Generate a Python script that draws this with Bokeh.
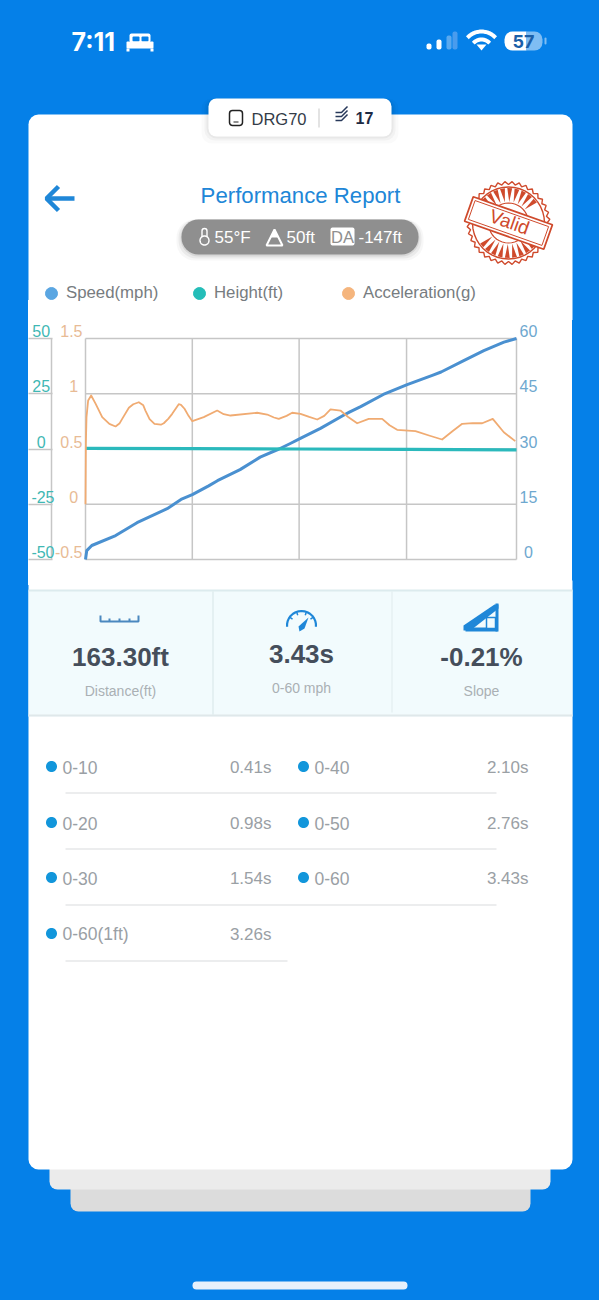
import math
from bokeh.embed import file_html
from bokeh.layouts import column
from bokeh.models import (BoxAnnotation, FixedTicker, Label, Legend, LegendItem, LinearAxis,
                          PolyAnnotation, Range1d)
from bokeh.plotting import figure
from bokeh.resources import INLINE

# ---------- data ----------
speed_t = [0, .01, .05, .24, .41, .65, .76, .85, .98, 1.05, 1.23, 1.39, 1.54, 1.63, 1.71, 1.87, 2.05, 2.10,
           2.19, 2.37, 2.56, 2.76, 2.83, 3.01, 3.17, 3.33, 3.43]
speed_mph = [0, 2.4, 3.8, 6.5, 10, 13.8, 16.3, 17.6, 20, 21.4, 24.4, 27.8, 30, 31.5, 32.9, 35.6, 39.1, 40,
             41.5, 44.8, 47.5, 50, 50.9, 54, 56.7, 59, 60]
height_t = [0, .85, 1.71, 2.56, 3.43]
height_ft = [.3, .2, .0, -.2, -.4]
accel_t = [0, .003, .008, .021, .045, .08, .133, .19, .239, .27, .292, .345, .38, .424, .46, .477, .51, .549, .6, .623,
           .66, .69, .742, .76, .788, .82, .85, .941, 1.048, 1.1, 1.154, 1.366, 1.446, 1.5, 1.538, 1.6, 1.645, 1.711,
           1.78, 1.844, 1.9, 1.95, 2.029, 2.09, 2.162, 2.254, 2.361, 2.42, 2.48, 2.626, 2.74, 2.838, 2.92, 2.998,
           3.08, 3.157, 3.241, 3.329, 3.42]
accel_g = [0, .547, .788, .939, .984, .91, .788, .727, .704, .73, .773, .873, .905, .923, .895, .848, .77, .728, .72,
           .733, .775, .818, .905, .9, .864, .8, .752, .788, .848, .815, .803, .828, .812, .785, .773, .8, .828, .818,
           .79, .767, .8, .858, .848, .79, .733, .773, .773, .715, .674, .661, .62, .586, .66, .728,
           .735, .733, .773, .652, .571]
x_ticks = [0, .85, 1.70, 2.555, 3.43]
speed_ticks = [0, 15, 30, 45, 60]
height_ticks = [-50, -25, 0, 25, 50]
accel_ticks = [-.5, 0, .5, 1, 1.5]
accel_tick_labels = ["-0.5", "0\u00a0", "0.5", "1\u00a0", "1.5"]
height_tick_labels = ["-50", "-25", "0\u00a0\u00a0", "25\u00a0", "50\u00a0"]
speed_tick_labels = ["\u00a00", "15", "30", "45", "60"]
split_names = ["0-10", "0-20", "0-30", "0-60(1ft)", "0-40", "0-50", "0-60"]
split_values = ["0.41s", "0.98s", "1.54s", "3.26s", "2.10s", "2.76s", "3.43s"]

BLUE = "#0580e8"
GRID = "#c6c6c6"
fig = None
yoff = 0


def panel(y0, y1):
    f = figure(width=599, height=y1 - y0, output_backend="svg", toolbar_location=None,
               x_range=Range1d(0, 599), y_range=Range1d(y1 - y0, 0), x_axis_location=None, y_axis_location=None,
               min_border=0, border_fill_color=None, background_fill_color=None, outline_line_color=None,
               frame_align=False)
    f.xgrid.visible = False
    f.ygrid.visible = False
    return f


def box(x0, y0, x1, y1, color, radius=0, alpha=1.0, line=None, lw=1):
    fig.add_layout(BoxAnnotation(left=x0, right=x1, top=y0 - yoff, bottom=y1 - yoff,
                                 left_units="canvas", right_units="canvas", top_units="canvas", bottom_units="canvas",
                                 fill_color=color, fill_alpha=alpha, line_color=line, line_alpha=1, line_width=lw,
                                 border_radius=radius, editable=False))


def poly(pts, fill=None, line=None, lw=1, alpha=1.0):
    fig.add_layout(PolyAnnotation(xs=[a for a, _ in pts], ys=[b - yoff for _, b in pts],
                                  xs_units="canvas", ys_units="canvas", fill_color=fill, fill_alpha=alpha,
                                  line_color=line, line_alpha=1, line_width=lw))


def path(pts, color, lw=2):
    poly(list(pts) + list(pts[::-1]), None, color, lw)


def disc(cx, cy, r, fill=None, line=None, lw=1, n=40):
    poly([(cx + r * math.cos(2 * math.pi * i / n), cy + r * math.sin(2 * math.pi * i / n)) for i in range(n)],
         fill, line, lw)


def arc(cx, cy, r, a0, a1, color, lw=2, n=16):
    path([(cx + r * math.cos(math.radians(a0 + (a1 - a0) * i / n)),
           cy + r * math.sin(math.radians(a0 + (a1 - a0) * i / n))) for i in range(n + 1)], color, lw)


def text(x, y, s, size, color, align="center", bold=False, font="Liberation Sans", angle=0):
    fig.add_layout(Label(x=x, y=y - yoff, x_units="canvas", y_units="canvas", text=s,
                         text_font=font, text_font_size=f"{size}px", text_color=color, text_align=align,
                         text_baseline="middle", text_font_style="bold" if bold else "normal",
                         angle=angle, angle_units="deg"))


# ---------- top panel: page furniture down to the legend ----------
fig, yoff = panel(0, 320), 0
box(28, 114, 572, 340, "#ffffff", 10)

text(71, 41, "7:11", 25, "#ffffff", "left", True, "Inter")
box(129, 33, 150, 42, "#ffffff", 2)
box(132, 36, 139, 41, BLUE, 1)
box(141, 36, 148, 41, BLUE, 1)
box(126, 41, 153, 48, "#ffffff", 1)
box(126, 48, 129, 51, "#ffffff")
box(150, 48, 153, 51, "#ffffff")
box(426, 43, 431, 49, "#ffffff", 2)
box(436, 39, 441, 49, "#ffffff", 2)
box(446, 35, 451, 49, "#5aa9ef", 2)
box(452, 31, 457, 49, "#4a9ced", 2)
arc(481, 50, 19, 222, 318, "#ffffff", 4)
arc(481, 50, 11, 222, 318, "#ffffff", 4)
poly([(476, 44), (486, 44), (481, 50)], "#ffffff")
box(504, 31, 526, 50, "#ffffff", (8, 0, 0, 8))
box(526, 31, 542, 50, "#7fbdf3", (0, 8, 8, 0))
box(544, 37, 546, 44, "#7fbdf3", 1)
text(523, 41, "57", 18, "#1b5fa8", "center", True, "Inter")

for d, a in [(7, .02), (4, .03), (2, .04)]:
    box(208 - d, 98, 391 + d, 136 + d, "#000000", 10, a)
box(208, 98, 391, 136, "#ffffff", 8)
box(229, 110, 242, 125, None, 3, line="#222222", lw=1.5)
box(233, 121, 238, 122, "#222222")
text(251, 118, "DRG70", 16.5, "#333b47", "left")
box(318, 108, 319, 127, "#c8c8c8")
for dy in (-4, 0, 4):
    path([(335, 116 + dy), (341, 116 + dy), (347, 110 + dy)], "#27385a", 1.5)
text(355, 117, "17", 16, "#1d2a44", "left", True)

text(300, 195, "Performance Report", 22.2, "#2086d7")
path([(74, 198), (46, 198)], "#1f87d8", 4.5)
path([(58, 186), (46, 198), (58, 210)], "#1f87d8", 4.5)

for d, a in [(5, .03), (3, .05), (1, .08)]:
    box(181 - d, 219, 418 + d, 254 + d + 1, "#000000", 18, a)
box(181, 219, 418, 254, "#8f8f8f", 17)
box(201.5, 228, 206.5, 240, None, 3, line="#ffffff", lw=1.4)
disc(204, 240, 4.5, "#8f8f8f", "#ffffff", 1.4)
text(214, 237, "55°F", 17, "#ffffff", "left")
poly([(274, 229), (282, 245), (266, 245)], None, "#ffffff", 2)
poly([(274, 229), (278, 237), (270, 237)], "#ffffff")
text(286, 237, "50ft", 17, "#ffffff", "left")
box(330, 227, 354, 245, "#ffffff", 2)
text(342, 236.5, "DA", 16.5, "#8f8f8f")
text(358, 237, "-147ft", 17, "#ffffff", "left")

RED = "#cf4a2c"
cx, cy = 508, 222.5
gear = []
for i in range(72):
    r = 41.5 if i % 2 else 38.5
    gear.append((cx + r * math.cos(i * math.pi / 36), cy + r * math.sin(i * math.pi / 36)))
poly(gear, None, RED, 1.4)
disc(cx, cy, 36, None, RED, 1.4)
disc(cx, cy, 20, None, RED, 1.2)
for i in range(30):
    if 0 <= (i * 12 + 20) % 180 <= 40 or (i * 12 + 20) % 180 >= 150:
        continue
    a = math.radians(i * 12 + 20)
    poly([(cx + 35 * math.cos(a - .07), cy + 35 * math.sin(a - .07)),
          (cx + 35 * math.cos(a + .07), cy + 35 * math.sin(a + .07)),
          (cx + 21 * math.cos(a), cy + 21 * math.sin(a))], RED)
ca, sa = math.cos(math.radians(19.5)), math.sin(math.radians(19.5))
band = [(-42, -13), (42, -13), (42, 13), (-42, 13)]
poly([(cx + u * ca - v * sa, cy + u * sa + v * ca) for u, v in band], "#ffffff", RED, 1.8)
inner = [(-39, -10), (39, -10), (39, 10), (-39, 10)]
poly([(cx + u * ca - v * sa, cy + u * sa + v * ca) for u, v in inner], None, RED, 1)
text(cx + 1, cy - 1, "Valid", 19, RED, angle=-19.5)

for name, col, dot_x in [("Speed(mph)", "#5aa6e2", 51), ("Height(ft)", "#24bdb8", 199), ("Acceleration(g)", "#f5b57d", 348)]:
    proxy = fig.scatter([float("nan")], [float("nan")], size=12, color=col)
    fig.add_layout(Legend(items=[LegendItem(label=name, renderers=[proxy])], location=(dot_x - 15, 320 - 308),
                          border_line_color=None, background_fill_alpha=0,
                          label_text_font="Liberation Sans", label_text_font_size="16.8px", label_text_color="#777c80",
                          glyph_width=30, glyph_height=30, padding=0, margin=0, label_standoff=-1))
top_panel = fig

# ---------- the chart ----------
CH_TOP, CH_BOT = 320, 580          # page rows of the chart panel
PLOT_TOP, PLOT_BOT = 338, 559      # rows of the plot area
PLOT_L, PLOT_R = 85, 516           # columns of the plot area
PAD = 2
LABEL_UP = 7                       # tick labels sit above their grid line


def y_range_for(lo, hi, up=0):
    per_px = (hi - lo) / (PLOT_BOT - PLOT_TOP)
    return Range1d(lo - (CH_BOT - PLOT_BOT + up) * per_px, hi + (PLOT_TOP - CH_TOP - up) * per_px)


tpx = 3.43 / (PLOT_R - PLOT_L)
chart = figure(width=544, height=CH_BOT - CH_TOP, output_backend="svg", toolbar_location=None,
               margin=(0, 27, 0, 28), x_axis_location=None, y_axis_location=None, frame_align=False,
               x_range=Range1d(-PAD * tpx, 3.43 + PAD * tpx), y_range=y_range_for(0, 60),
               min_border_left=PLOT_L - PAD - 28, min_border_right=572 - PLOT_R - PAD, min_border_top=0, min_border_bottom=0,
               border_fill_color="#ffffff", background_fill_color="#ffffff", outline_line_color=None)
chart.xgrid.visible = False
chart.ygrid.visible = False
chart.extra_y_ranges = {"height": y_range_for(-50, 50), "accel": y_range_for(-.5, 1.5),
                        "height_lbl": y_range_for(-50, 50, LABEL_UP), "accel_lbl": y_range_for(-.5, 1.5, LABEL_UP),
                        "speed_lbl": y_range_for(0, 60, LABEL_UP)}

chart.segment(x_ticks, [0] * 5, x_ticks, [60] * 5, line_color=GRID, line_width=1.5)
chart.segment([0] * 5, speed_ticks, [3.43] * 5, speed_ticks, line_color=GRID, line_width=1.5)
chart.line(speed_t, speed_mph, line_color="#4a90d0", line_width=3, line_join="round")
chart.line(height_t, height_ft, y_range_name="height", line_color="#2bb9bc", line_width=3.2)
chart.line(accel_t, accel_g, y_range_name="accel", line_color="#f0ab72", line_width=1.8, line_join="round")


def label_axis(range_name, ticks, labels, color, standoff):
    return LinearAxis(y_range_name=range_name, ticker=FixedTicker(ticks=ticks), axis_line_color=None,
                      major_tick_line_color=None, minor_tick_line_color=None, major_tick_out=0, major_tick_in=0,
                      major_label_overrides=dict(zip(ticks, labels)), major_label_standoff=standoff,
                      major_label_text_font="Liberation Sans", major_label_text_font_size="16px",
                      major_label_text_color=color)


accel_axis = label_axis("accel_lbl", accel_ticks, accel_tick_labels, "#e8bb95", 1)
rule_axis = LinearAxis(y_range_name="height", ticker=FixedTicker(ticks=height_ticks), bounds=(-50, 50),
                       axis_line_color=GRID, axis_line_width=1.5, major_tick_line_color=None, minor_tick_line_color=None,
                       major_tick_out=0, major_tick_in=0, major_label_overrides={v: "" for v in height_ticks})
height_axis = label_axis("height_lbl", height_ticks, height_tick_labels, "#3fb8b4", -3)
tick_axis = LinearAxis(y_range_name="height", ticker=FixedTicker(ticks=height_ticks), axis_line_color=None,
                       major_tick_line_color=GRID, major_tick_line_width=1.5, minor_tick_line_color=None,
                       major_tick_out=0, major_tick_in=24, major_label_overrides={v: "" for v in height_ticks})
for ax in (accel_axis, rule_axis, height_axis, tick_axis):
    chart.add_layout(ax, "left")
chart.add_layout(label_axis("speed_lbl", speed_ticks, speed_tick_labels, "#6ea8cf", 1), "right")

# ---------- bottom panel ----------
fig, yoff = panel(580, 1300), 580
box(70, 1180, 530, 1211, "#dcdcdc", 8)
box(49, 1160, 550, 1189, "#ebebeb", 8)
box(28, 560, 572, 1169, "#ffffff", 10)
box(192, 1281, 407, 1289, "#e6f0fb", 4)

box(28, 590, 572, 716, "#f2fbfd")
box(28, 589, 572, 591, "#dcebee")
box(28, 714, 572, 716, "#dfe8ea")
box(212, 591, 213, 714, "#d6e6e8")
box(391, 591, 392, 712, "#dfecee")
for x0, y0, s0, lab, ylab in [(120, 656, "163.30ft", "Distance(ft)", 690), (301, 653, "3.43s", "0-60 mph", 687),
                              (481, 656, "-0.21%", "Slope", 690)]:
    text(x0, y0, s0, 26, "#454e5b", bold=True)
    text(x0, ylab, lab, 14, "#aab0b4")
path([(100, 615), (100, 621), (138, 621), (138, 615)], "#4b88bf", 2)
for xr in (109, 119, 129):
    path([(xr, 618), (xr, 621)], "#4b88bf", 2)
arc(301, 625, 14.5, 175, 365, "#1f87d8", 2.2)
for ang in (215, 250, 290, 325):
    a = math.radians(ang)
    path([(301 + 14 * math.cos(a), 625 + 14 * math.sin(a)), (301 + 11 * math.cos(a), 625 + 11 * math.sin(a))],
         "#1f87d8", 1.5)
poly([(308, 617), (304, 628), (299, 631), (298, 626)], "#1f87d8")
poly([(463, 625), (494, 604), (498, 604), (498, 608), (470, 630), (463, 630)], "#1f87d8")
box(465, 627, 497, 631, "#1f87d8")
box(486, 617, 495, 628, "#f2fbfd", line="#1f87d8", lw=1.5)
box(495, 603, 498, 631, "#1f87d8")

rows_y = [766, 822, 877, 933]
for i, (name, val) in enumerate(zip(split_names, split_values)):
    left_col = i < 4
    ry = rows_y[i] if left_col else rows_y[i - 4]
    dot_x = 51 if left_col else 303
    disc(dot_x, ry, 5.5, "#1296db")
    text(62 if left_col else 314, ry + .5, name, 17.5, "#9aa0a5", "left")
    text(271 if left_col else 528, ry + .5, val, 17, "#9aa0a5", "right")
for ly, x1 in [(792, 496), (848, 496), (904, 496), (960, 287)]:
    box(65, ly, x1, ly + 1, "#d9dcde")
bottom_panel = fig

page = column(top_panel, chart, bottom_panel, spacing=0)
html = file_html(page, INLINE)
strip = "linear-gradient(to right,transparent 28px,#ffffff 28px,#ffffff 572px,transparent 572px)"
style = f"html{{background:{strip} 0 300px/100% 285px no-repeat,{BLUE};}}body{{background:transparent;margin:0;}}"
html = html.replace("<head>", f"<head><style>{style}</style>", 1)
open("out.html", "w").write(html)
